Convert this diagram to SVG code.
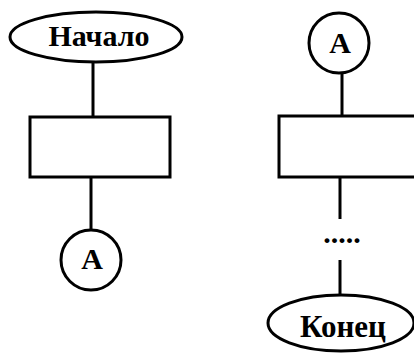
<svg xmlns="http://www.w3.org/2000/svg" width="414" height="354" viewBox="0 0 414 354">
<style>
.s{fill:#fff;stroke:#000;stroke-width:3}
.l{stroke:#000;stroke-width:3;fill:none}
.t{font-family:"Liberation Serif","Times New Roman",serif;font-weight:bold;font-size:30px;fill:#000;text-anchor:middle}
</style>
<rect width="414" height="354" fill="#fff"/>
<g id="connectors">
<line class="l" x1="93" y1="63" x2="93" y2="117"/>
<line class="l" x1="91" y1="177" x2="91" y2="230"/>
<line class="l" x1="342" y1="72" x2="342" y2="116"/>
<line class="l" x1="340" y1="177" x2="340" y2="219"/>
<line class="l" x1="340" y1="260" x2="340" y2="295"/>
</g>
<g id="start">
<ellipse class="s" cx="96" cy="37" rx="86" ry="25"/>
<text class="t" x="99" y="46">Начало</text>
</g>
<g id="process1">
<rect class="s" x="30" y="117" width="140" height="60"/>
</g>
<g id="connA1">
<circle class="s" cx="91" cy="260" r="30"/>
<text class="t" x="92" y="269">А</text>
</g>
<g id="connA2">
<circle class="s" cx="339" cy="43" r="30"/>
<text class="t" x="340" y="53">А</text>
</g>
<g id="process2">
<rect class="s" x="279" y="116" width="150" height="61"/>
</g>
<g id="dots">
<text class="t" x="342" y="243">.....</text>
</g>
<g id="end">
<ellipse class="s" cx="341" cy="323" rx="73" ry="28"/>
<text class="t" x="343" y="337" style="font-size:31px">Конец</text>
</g>
</svg>
